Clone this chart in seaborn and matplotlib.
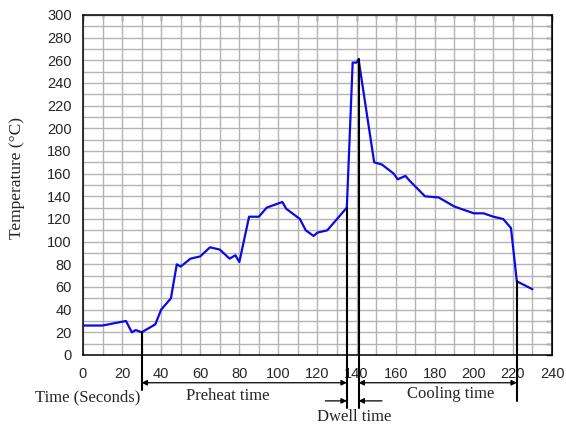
import matplotlib
matplotlib.use("Agg")
from matplotlib import pyplot as plt
from matplotlib.ticker import MultipleLocator
import pandas as pd
import seaborn as sns

# temperature profile
time_s = [0, 10, 22, 25, 27, 30, 37, 40, 45, 48, 50, 55, 60, 65, 70, 75, 78, 80,
          85, 90, 94, 102, 104, 111, 114, 118, 120, 125, 135, 138, 140, 141,
          149, 153, 159, 161, 165, 167, 175, 182, 190, 200, 205, 210, 215, 219,
          222, 230]
temp_c = [26, 26, 30, 20, 22, 20, 27, 40, 50, 80, 78, 85, 87, 95, 93, 85, 88, 82,
          122, 122, 130, 135, 129, 120, 110, 105, 108, 110, 130, 258, 258, 261,
          170, 168, 160, 155, 158, 154, 140, 139, 131, 125, 125, 122, 120, 112,
          65, 58]

# phase boundaries (seconds) and where the marker lines start on the curve
marker_t = [30, 135, 141, 222]
marker_top = [20, 130, 261, 65]
marker_bottom = [-31, -47, -47, -41]

sns.set_style("white")
plt.rcParams['font.family'] = ['Liberation Sans', 'DejaVu Sans']

df = pd.DataFrame({"t": time_s, "T": temp_c})

fig = plt.figure(figsize=(5.66, 4.28), dpi=100)
ax = fig.add_axes([0.1466, 0.1706, 0.8287, 0.7944])

sns.lineplot(data=df, x="t", y="T", ax=ax, color="#0a0ae6", lw=1.6,
             sort=False, estimator=None, zorder=5)

ax.set_xlim(0, 240)
ax.set_ylim(0, 300)
ax.xaxis.set_major_locator(MultipleLocator(20))
ax.xaxis.set_minor_locator(MultipleLocator(10))
ax.yaxis.set_major_locator(MultipleLocator(20))
ax.yaxis.set_minor_locator(MultipleLocator(10))
ax.grid(which="both", color="#b4b4b4", lw=1.0, zorder=0)
ax.set_axisbelow(True)

for sp in ax.spines.values():
    sp.set_color("black")
    sp.set_linewidth(1.1)

ax.tick_params(which="both", direction="out", color="black", width=1.0,
               top=False, right=False, labelsize=10.5, pad=4)
ax.tick_params(which="major", length=4)
ax.tick_params(which="minor", length=2.5)
ax.tick_params(axis="x", pad=4.5)

# inward ticks on the top and right frame
ax_top = ax.secondary_xaxis("top")
ax_top.xaxis.set_major_locator(MultipleLocator(20))
ax_top.xaxis.set_minor_locator(MultipleLocator(10))
ax_top.tick_params(which="both", direction="in", labeltop=False, width=1.0)
ax_top.tick_params(which="major", length=4)
ax_top.tick_params(which="minor", length=2.5)
ax_right = ax.secondary_yaxis("right")
ax_right.yaxis.set_major_locator(MultipleLocator(20))
ax_right.yaxis.set_minor_locator(MultipleLocator(10))
ax_right.tick_params(which="both", direction="in", labelright=False, width=1.0)
ax_right.tick_params(which="major", length=4)
ax_right.tick_params(which="minor", length=4)

ax.set_xlabel("")
ax.set_ylabel("Temperature (°C)", family="Liberation Serif", fontsize=12.5)
ax.yaxis.set_label_coords(-0.124, 0.52)

# phase marker lines
for t, top, bot in zip(marker_t, marker_top, marker_bottom):
    ax.plot([t, t], [top, bot], color="black", lw=1.5, clip_on=False, zorder=6)

arr = dict(arrowstyle="<|-|>", color="black", lw=0.9, mutation_scale=8,
           shrinkA=0, shrinkB=0)
ax.annotate("", xy=(marker_t[0], -24.5), xytext=(marker_t[1], -24.5),
            arrowprops=arr, annotation_clip=False)
ax.annotate("", xy=(marker_t[2], -24.5), xytext=(marker_t[3], -24.5),
            arrowprops=arr, annotation_clip=False)
one = dict(arrowstyle="-|>", color="black", lw=0.9, mutation_scale=8,
           shrinkA=0, shrinkB=0)
ax.annotate("", xy=(marker_t[1], -40.5), xytext=(124, -40.5),
            arrowprops=one, annotation_clip=False)
ax.annotate("", xy=(marker_t[2], -40.5), xytext=(153, -40.5),
            arrowprops=one, annotation_clip=False)

serif = dict(family="Liberation Serif", fontsize=12, ha="center", va="center")
ax.text(2.6, -37, "Time (Seconds)", **serif)
ax.text(74, -36, "Preheat time", **serif)
ax.text(188, -34, "Cooling time", **serif)
ax.text(139, -55, "Dwell time", **serif)

fig.savefig("out.png", dpi=100)
